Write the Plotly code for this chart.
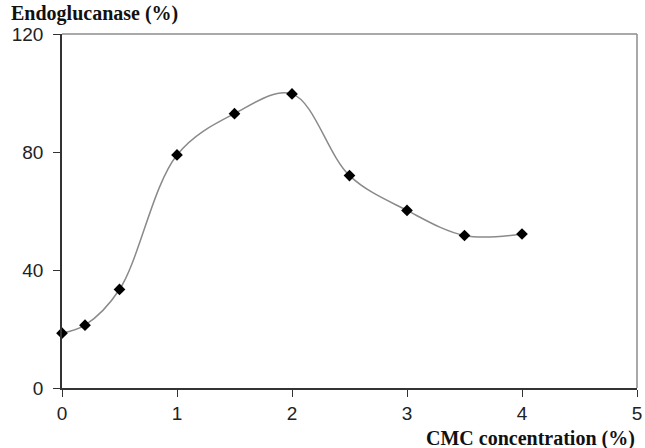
import plotly.graph_objects as go

cmc = [0, 0.2, 0.5, 1, 1.5, 2, 2.5, 3, 3.5, 4]
endo = [18.6, 21.3, 33.4, 79, 93, 99.7, 72, 60.2, 51.7, 52.2]
x_ticks = [0, 1, 2, 3, 4, 5]
y_ticks = [0, 40, 80, 120]

fig = go.Figure()
fig.add_trace(go.Scatter(
    x=cmc, y=endo, mode="lines+markers",
    line=dict(shape="spline", smoothing=1.0, color="#8a8a8a", width=1.5),
    marker=dict(symbol="diamond", size=9, color="#000000"),
    showlegend=False, cliponaxis=False,
))

fig.update_layout(
    width=645, height=448,
    margin=dict(l=62, r=8, t=34, b=60),
    paper_bgcolor="white", plot_bgcolor="white",
    font=dict(family="Liberation Sans, Arial, sans-serif", size=19, color="#222222"),
    xaxis=dict(range=[0, 5], tickvals=x_ticks, showgrid=False, zeroline=False,
               showline=True, linecolor="#333333", linewidth=1.5, automargin=False,
               ticks="outside", ticklen=7, tickcolor="#333333", ticklabelstandoff=0),
    yaxis=dict(range=[0, 120], tickvals=y_ticks, showgrid=False, zeroline=False,
               showline=True, linecolor="#333333", linewidth=1.5, automargin=False,
               ticks="outside", ticklen=7, tickcolor="#333333", ticklabelstandoff=6),
    shapes=[
        dict(type="line", xref="paper", yref="paper", x0=0, x1=1, y0=1, y1=1,
             line=dict(color="#8c8c8c", width=1.5)),
        dict(type="line", xref="paper", yref="paper", x0=1, x1=1, y0=0, y1=1,
             line=dict(color="#8c8c8c", width=1.5)),
    ],
    annotations=[
        dict(text="<b>Endoglucanase (%)</b>", xref="paper", yref="paper",
             x=-0.092, y=1.0, xanchor="left", yanchor="bottom", yshift=7, showarrow=False,
             font=dict(family="Liberation Serif, Times New Roman, serif", size=20, color="#111111")),
        dict(text="<b>CMC concentration (%)</b>", xref="paper", yref="paper",
             x=1.0, y=0, xanchor="right", yanchor="top", yshift=-37, showarrow=False,
             font=dict(family="Liberation Serif, Times New Roman, serif", size=20, color="#111111")),
    ],
)

fig.write_html("out.html", config={"displayModeBar": False},
               post_script="document.body.style.margin='0';document.body.style.overflow='hidden';")
